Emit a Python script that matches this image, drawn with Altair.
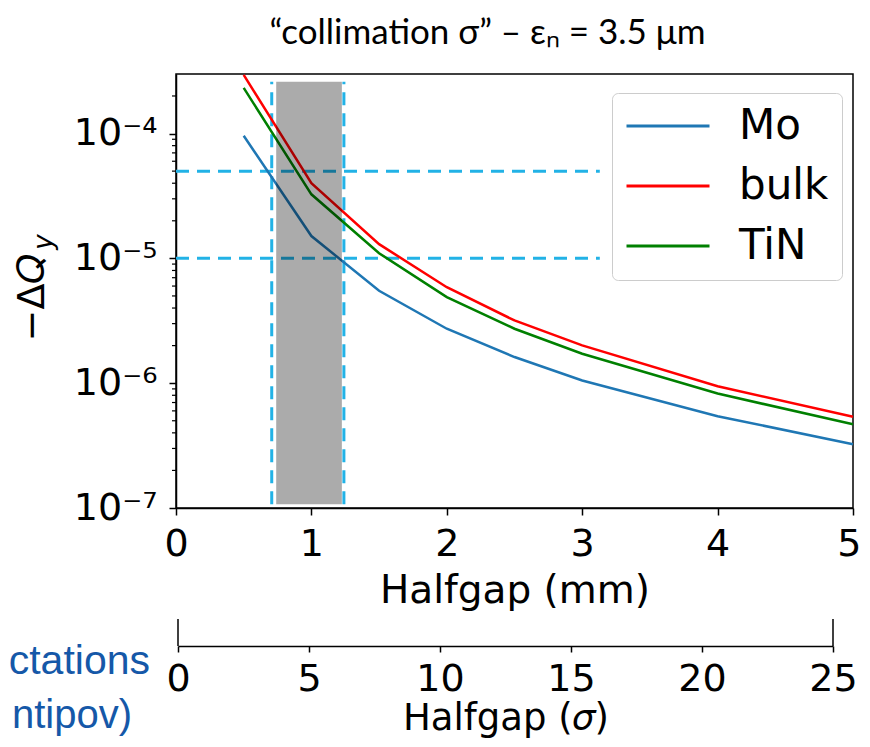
import altair as alt
import pandas as pd

# ---------------- data ----------------
halfgap_mm = [0.5, 1.0, 1.5, 2.0, 2.5, 3.0, 4.0, 5.0]
dq_mo = [9.6e-5, 1.51e-5, 5.5e-6, 2.73e-6, 1.62e-6, 1.05e-6, 5.44e-7, 3.24e-7]
dq_bulk = [2.95e-4, 4.0e-5, 1.30e-5, 5.87e-6, 3.18e-6, 2.01e-6, 9.45e-7, 5.38e-7]
dq_tin = [2.32e-4, 3.26e-5, 1.10e-5, 4.89e-6, 2.73e-6, 1.72e-6, 8.26e-7, 4.68e-7]
materials = ["Mo", "bulk", "TiN"]
material_colors = ["#1f77b4", "#ff0000", "#008000"]

x_ticks_mm = [0, 1, 2, 3, 4, 5]
y_ticks = [1e-7, 1e-6, 1e-5, 1e-4]
y_minor = [2e-7, 3e-7, 4e-7, 5e-7, 6e-7, 7e-7, 8e-7, 9e-7,
           2e-6, 3e-6, 4e-6, 5e-6, 6e-6, 7e-6, 8e-6, 9e-6,
           2e-5, 3e-5, 4e-5, 5e-5, 6e-5, 7e-5, 8e-5, 9e-5, 2e-4]
sigma_ticks = [0, 5, 10, 15, 20, 25]
sigma_ends = [0, 25]

dq_thresholds = [5e-5, 1e-5]
threshold_x_end = 3.13
gap_limits_mm = [0.707, 1.24]
shaded_mm = [0.74, 1.225]
y_domain = [1e-7, 3e-4]
band_top = 2.6e-4
band_bottom = 1.07e-7

# ---------------- tables ----------------
rows = []
for m, vals in zip(materials, [dq_mo, dq_bulk, dq_tin]):
    for x, v in zip(halfgap_mm, vals):
        rows.append({"halfgap": x, "dq": v, "material": m})
lines_df = pd.DataFrame(rows)

hrules_df = pd.DataFrame({"x": [0.0] * len(dq_thresholds),
                          "x2": [threshold_x_end] * len(dq_thresholds),
                          "y": dq_thresholds})
vrules_df = pd.DataFrame({"x": gap_limits_mm,
                          "y": [band_bottom] * len(gap_limits_mm),
                          "y2": [band_top] * len(gap_limits_mm)})
band_df = pd.DataFrame({"x": [shaded_mm[0]], "x2": [shaded_mm[1]],
                        "y": [band_bottom], "y2": [band_top]})
minor_df = pd.DataFrame({"y": y_minor})
sigma_df = pd.DataFrame({"sigma": sigma_ends})

x_scale = alt.Scale(domain=[0, 5], nice=False, zero=False)
y_scale = alt.Scale(type="log", domain=y_domain, nice=False)

dash_color = "#22b2e6"

x_axis = alt.Axis(orient="bottom", values=x_ticks_mm, format="d", tickSize=7,
                  labelFontSize=38, labelPadding=10, title="Halfgap (mm)",
                  titleFontSize=39, titleY=94, titleBaseline="alphabetic",
                  labelFlush=False,
                  labelAlign={"condition": {"test": "datum.value == 5", "value": "right"},
                              "value": "center"},
                  labelOffset={"condition": {"test": "datum.value == 5", "value": 8},
                               "value": 0})
y_axis = alt.Axis(orient="left", values=y_ticks,
                  labelExpr="datum.value < 5e-7 ? '10⁻⁷' : datum.value < 5e-6 ? '10⁻⁶' : datum.value < 5e-5 ? '10⁻⁵' : '10⁻⁴'",
                  tickSize=7, labelFontSize=38, labelPadding=12,
                  title="−Δ𝑄", titleFontSize=38, titleAngle=270,
                  titleX=-133, titleY=223, titleBaseline="alphabetic",
                  titleAlign="center", labelFlush=False, labelOverlap=False)

lines = alt.Chart(lines_df).mark_line(strokeWidth=2.5).encode(
    x=alt.X("halfgap:Q", scale=x_scale, axis=x_axis),
    y=alt.Y("dq:Q", scale=y_scale, axis=y_axis),
    color=alt.Color("material:N",
                    scale=alt.Scale(domain=materials, range=material_colors),
                    sort=materials,
                    legend=alt.Legend(title=None, orient="none", legendX=436, legendY=19,
                                      symbolType="stroke", symbolSize=6889,
                                      symbolStrokeWidth=3, labelFontSize=42,
                                      labelOffset=28, clipHeight=40, rowPadding=18,
                                      padding=13, fillColor="white",
                                      strokeColor="#cccccc", cornerRadius=6)),
)

hrules = alt.Chart(hrules_df).mark_rule(color=dash_color, strokeWidth=3,
                                        strokeDash=[13, 8]).encode(
    x=alt.X("x:Q", scale=x_scale), x2="x2:Q",
    y=alt.Y("y:Q", scale=y_scale))
vrules = alt.Chart(vrules_df).mark_rule(color=dash_color, strokeWidth=3,
                                        strokeDash=[13, 8]).encode(
    x=alt.X("x:Q", scale=x_scale),
    y=alt.Y("y:Q", scale=y_scale), y2="y2:Q")
band = alt.Chart(band_df).mark_rect(color="black", opacity=0.33).encode(
    x=alt.X("x:Q", scale=x_scale), x2="x2:Q",
    y=alt.Y("y:Q", scale=y_scale), y2="y2:Q")
minor = alt.Chart(minor_df).mark_rule(color="black", strokeWidth=1.2).encode(
    y=alt.Y("y:Q", scale=y_scale), x=alt.value(-4), x2=alt.value(0))

y_sub = alt.Chart(pd.DataFrame({"t": ["y"]})).mark_text(
    font="DejaVu Sans", fontStyle="italic", fontSize=26, angle=270,
    align="center", baseline="alphabetic", color="black").encode(
    text="t:N", x=alt.value(-124), y=alt.value(168))

side1 = alt.Chart(pd.DataFrame({"t": ["ctations"]})).mark_text(
    font="Liberation Sans", fontSize=41, align="right", baseline="alphabetic",
    color="#1558a8").encode(text="t:N", x=alt.value(-26), y=alt.value(600))
side2 = alt.Chart(pd.DataFrame({"t": ["ntipov)"]})).mark_text(
    font="Liberation Sans", fontSize=40, align="right", baseline="alphabetic",
    color="#1558a8").encode(text="t:N", x=alt.value(-44), y=alt.value(654))

inner = alt.layer(hrules, vrules, lines, band, minor, y_sub, side1, side2)

sigma_axis = alt.Axis(orient="bottom", offset=138, values=sigma_ticks, format="d",
                      tickSize=6, labelFontSize=38, labelPadding=8,
                      title="Halfgap (𝜎)", titleFontSize=37, titleY=83,
                      titleBaseline="alphabetic", labelFlush=False)
sigma = alt.Chart(sigma_df).mark_rule(color="black", strokeWidth=1.5).encode(
    x=alt.X("sigma:Q", scale=alt.Scale(domain=[0, 25], range=[2, 657],
                                         nice=False, zero=False),
            axis=sigma_axis),
    y=alt.value(545), y2=alt.value(572))

chart = alt.layer(inner, sigma).resolve_scale(x="independent").properties(
    width=677, height=434,
    padding={"left": 168, "top": 66, "right": 9, "bottom": 231},
    autosize=alt.AutoSizeParams(type="none"),
    title=alt.TitleParams(text="“collimation σ” – εₙ = 3.5 μm", font="Lato",
                          fontSize=35, fontWeight="normal", anchor="middle",
                          dx=-27, offset=19, color="black"),
).configure_view(stroke="black", strokeWidth=1.5).configure_axis(
    grid=False, domainColor="black", domainWidth=1.5, tickColor="black",
    tickWidth=1.5, labelColor="black", titleColor="black",
    labelFont="DejaVu Sans", titleFont="DejaVu Sans", titleFontWeight="normal",
).configure_legend(labelFont="DejaVu Sans", labelColor="black")

chart.save("out.html", embed_options={"renderer": "svg", "actions": False})
